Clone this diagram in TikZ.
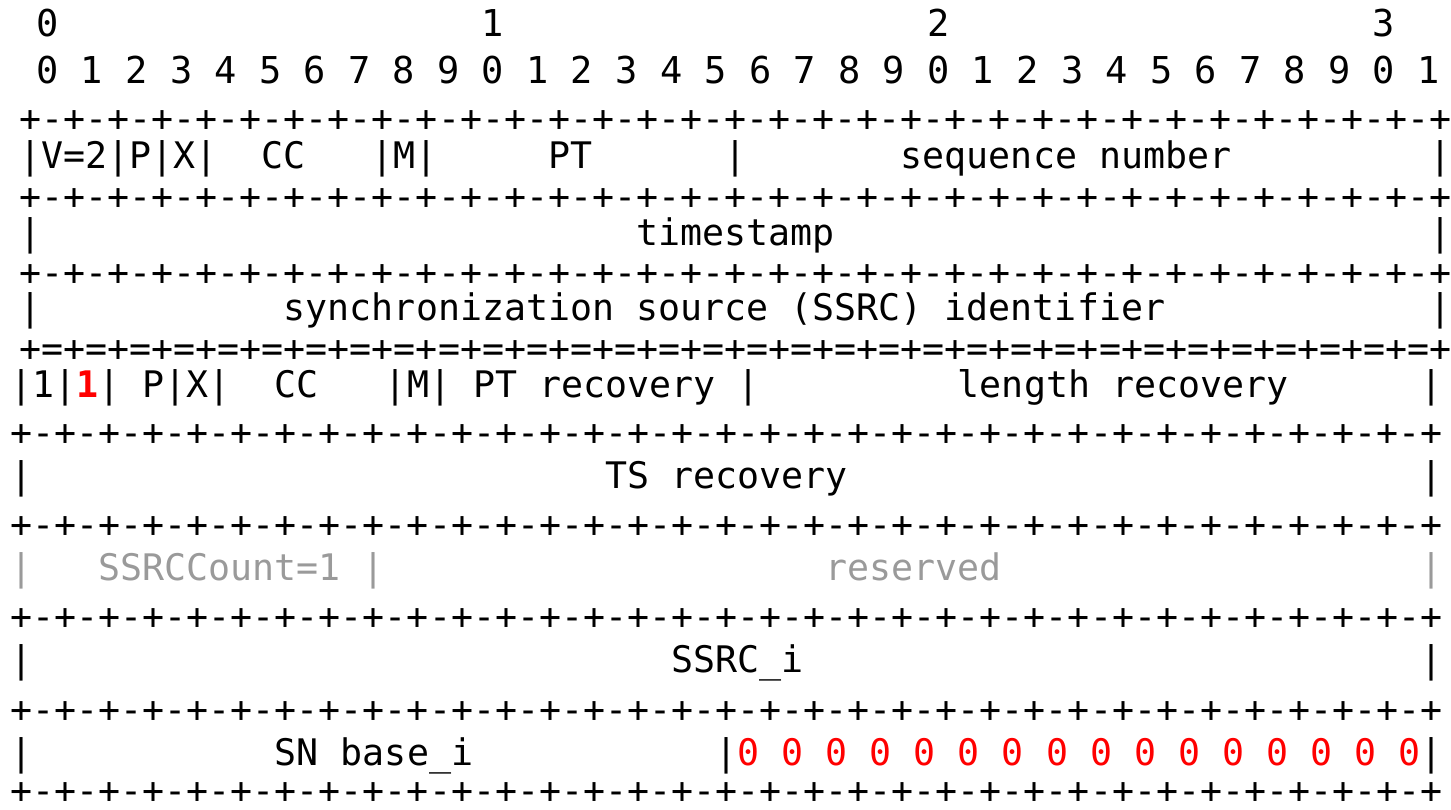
\documentclass[tikz,border=0pt]{standalone}
\usepackage{fontspec}
\usepackage{xcolor}
\usepackage{tikz}
\newfontfamily\rtpmono{DejaVu Sans Mono}
\definecolor{bitred}{HTML}{FF0000}
\definecolor{fadegray}{HTML}{9A9A9A}
\newcommand\gap[1]{\hskip#1\fontcharwd\font`0\relax}
\newcommand\dashoct{+-+-+-+-+-+-+-+-}
\newcommand\eqoct{+=+=+=+=+=+=+=+=}
\newcommand\dashline{\dashoct\dashoct\dashoct\dashoct+}
\newcommand\eqline{\eqoct\eqoct\eqoct\eqoct+}

\begin{document}
\begin{tikzpicture}[x=0.5pt,y=-0.5pt,bitrow/.style={anchor=base west,inner sep=0pt,font=\rtpmono\fontsize{18.3}{18.3}\selectfont},hdrrow/.style={bitrow,font=\rtpmono\fontsize{18.5}{18.5}\selectfont}]
    \useasboundingbox (0,0) rectangle (1451,809);

    % bit ruler
    \node[hdrrow] (tens) at (36,36) {0\gap{19}1\gap{19}2\gap{19}3};
    \node[hdrrow] (units) at (36,83) {0 1 2 3 4 5 6 7 8 9 0 1 2 3 4 5 6 7 8 9 0 1 2 3 4 5 6 7 8 9 0 1};

    % RTP header
    \node[bitrow] (sepA) at (19,131) {\dashline};
    \node[bitrow] (first) at (19,168) {|V=2|P|X|\gap{2}CC\gap{3}|M|\gap{5}PT\gap{6}|\gap{7}sequence number\gap{9}|};
    \node[bitrow] (sepB) at (19,209) {\dashline};
    \node[bitrow] (stamp) at (19,245) {|\gap{27}timestamp\gap{27}|};
    \node[bitrow] (sepC) at (19,285) {\dashline};
    \node[bitrow] (ssrc) at (19,320) {|\gap{11}synchronization source (SSRC) identifier\gap{12}|};
    \node[bitrow] (sepD) at (19,361) {\eqline};

    % FEC header
    \node[bitrow] (fec) at (10,397) {|1|{\color{bitred}\bfseries 1}| P|X|\gap{2}CC\gap{3}|M| PT recovery |\gap{9}length recovery\gap{6}|};
    \node[bitrow] (sepE) at (10,445) {\dashline};
    \node[bitrow] (tsrec) at (10,488) {|\gap{26}TS recovery\gap{26}|};
    \node[bitrow] (sepF) at (10,537) {\dashline};
    \node[bitrow,text=fadegray] (count) at (10,580) {|\gap{3}SSRCCount=1 |\gap{20}reserved\gap{19}|};
    \node[bitrow] (sepG) at (10,629) {\dashline};
    \node[bitrow] (ssrci) at (10,672) {|\gap{29}SSRC\_i\gap{28}|};
    \node[bitrow] (sepH) at (10,722) {\dashline};
    \node[bitrow] (snbase) at (10,765) {|\gap{11}SN base\_i\gap{11}|{\color{bitred}0 0 0 0 0 0 0 0 0 0 0 0 0 0 0 0}|};
    \node[bitrow] (sepI) at (10,803) {\dashline};
\end{tikzpicture}
\end{document}
